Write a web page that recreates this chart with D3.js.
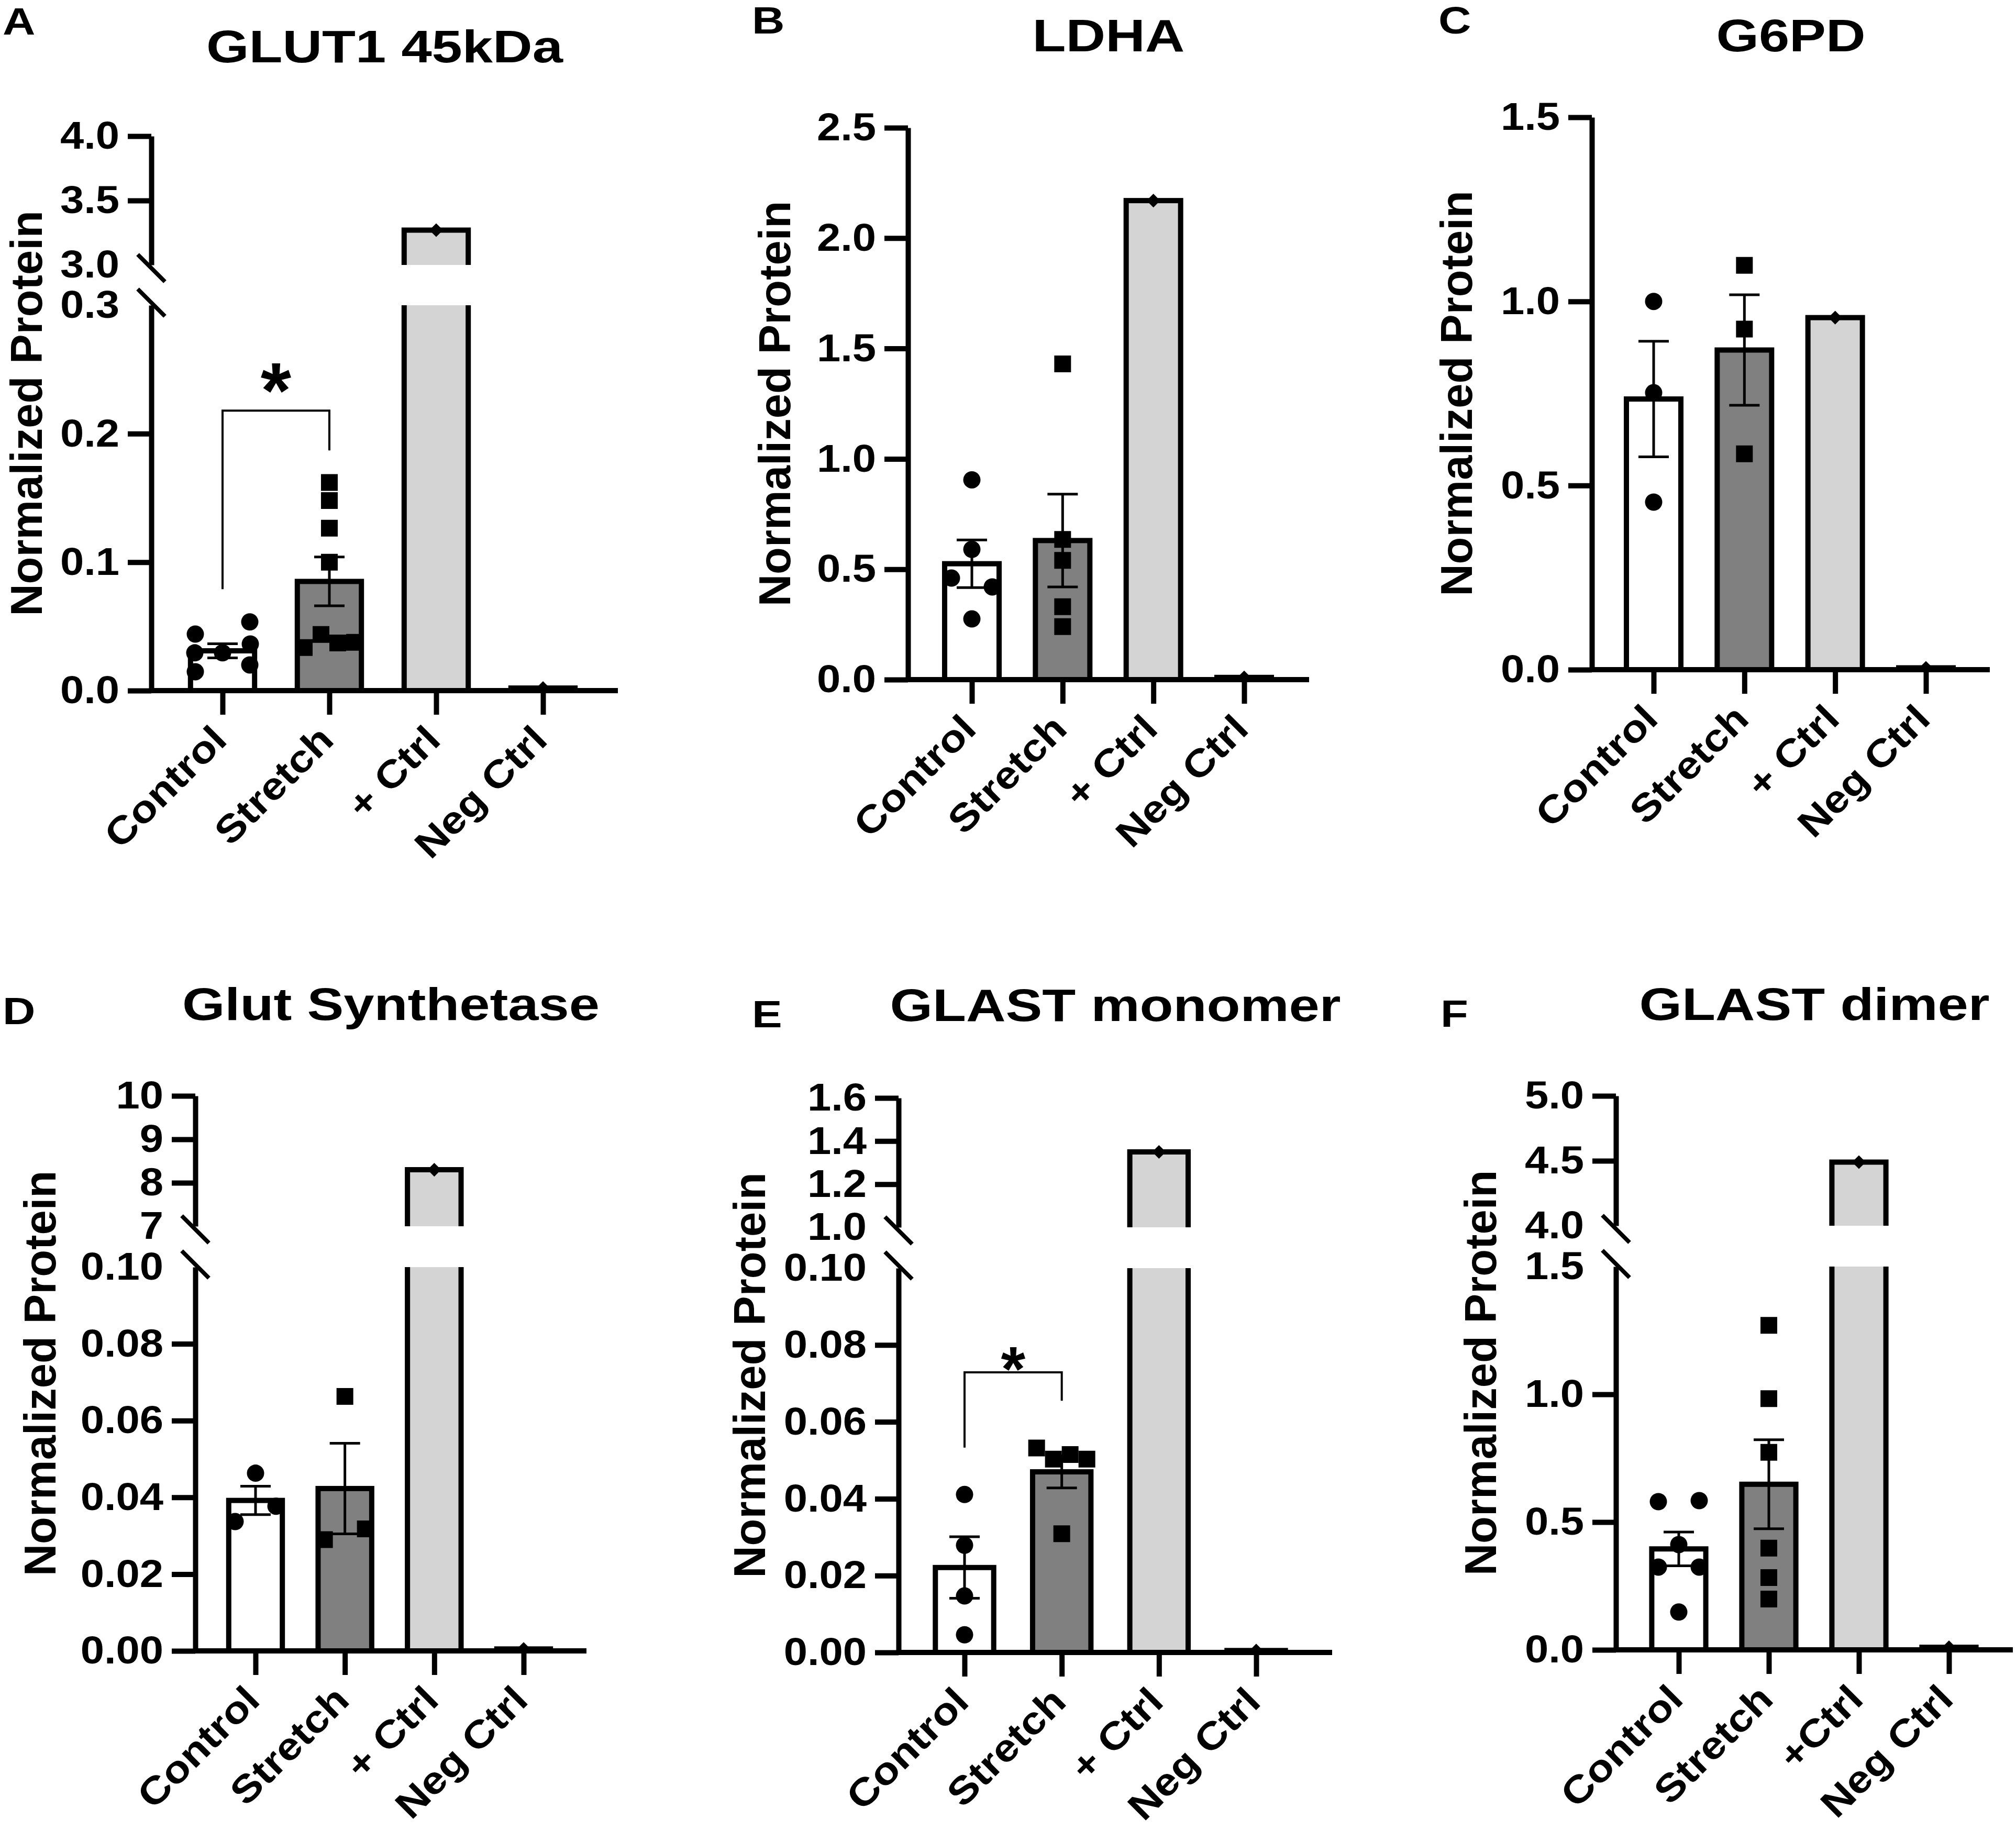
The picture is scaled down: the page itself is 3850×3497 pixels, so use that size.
<!DOCTYPE html>
<html lang="en">
  <head>
    <meta charset="utf-8">
    <title>Normalized protein panels</title>
    <script src="https://d3js.org/d3.v7.min.js"></script>
    <style>
      body { margin: 0; background: #fff; }
      svg { display: block; }
      text { font-family: "Liberation Sans", Arial, Helvetica, sans-serif; font-weight: bold; fill: #000; }
    </style>
  </head>
  <body>
    <svg id="fig" width="3850" height="3497"></svg>
    <script type="text/javascript">
      // categories
      var groups  = ["Control", "Stretch", "+ Ctrl", "Neg Ctrl"];
      var groupsF = ["Control", "Stretch", "+Ctrl", "Neg Ctrl"];

      // A - GLUT1 45kDa
      var glut1Mean    = [0.031, 0.085, 3.27, 0.002];
      var glut1Sem     = [0.0055, 0.019, 0, 0];
      var glut1Control = [0.044, 0.0535, 0.0294, 0.0294, 0.0363, 0.0147, 0.020];
      var glut1Stretch = [0.162, 0.148, 0.1265, 0.100, 0.0335, 0.0437, 0.0371, 0.0376];
      var glut1TicksLow  = [0, 0.1, 0.2, 0.3];
      var glut1TicksHigh = [3.0, 3.5, 4.0];
      var glut1Bracket   = [0.079, 0.218, 0.187];   // left end, top, right end

      // B - LDHA
      var ldhaMean    = [0.525, 0.63, 2.17, 0.01];
      var ldhaSem     = [0.108, 0.21, 0, 0];
      var ldhaControl = [0.905, 0.59, 0.46, 0.42, 0.275];
      var ldhaStretch = [1.43, 0.635, 0.54, 0.33, 0.24];
      var ldhaTicks   = [0, 0.5, 1.0, 1.5, 2.0, 2.5];

      // C - G6PD
      var g6pdMean    = [0.735, 0.868, 0.956, 0.005];
      var g6pdSem     = [0.157, 0.15, 0, 0];
      var g6pdControl = [1.0, 0.752, 0.455];
      var g6pdStretch = [1.098, 0.925, 0.586];
      var g6pdTicks   = [0, 0.5, 1.0, 1.5];

      // D - Glut Synthetase
      var gsMean    = [0.0392, 0.0423, 8.30, 0.0005];
      var gsSem     = [0.0037, 0.0118, 0, 0];
      var gsControl = [0.0463, 0.0337, 0.0377];
      var gsStretch = [0.0663, 0.029, 0.0318];
      var gsTicksLow  = [0, 0.02, 0.04, 0.06, 0.08, 0.10];
      var gsTicksHigh = [7, 8, 9, 10];

      // E - GLAST monomer
      var monoMean    = [0.0221, 0.0470, 1.35, 0.0005];
      var monoSem     = [0.0080, 0.0042, 0, 0];
      var monoControl = [0.0411, 0.0279, 0.0147, 0.0046];
      var monoStretch = [0.0532, 0.0503, 0.0515, 0.0503, 0.0309];
      var monoTicksLow  = [0, 0.02, 0.04, 0.06, 0.08, 0.10];
      var monoTicksHigh = [1.0, 1.2, 1.4, 1.6];
      var monoBracket   = [0.0533, 0.0729, 0.0655];

      // F - GLAST dimer
      var dimerMean    = [0.395, 0.648, 4.49, 0.01];
      var dimerSem     = [0.066, 0.174, 0, 0];
      var dimerControl = [0.58, 0.584, 0.412, 0.324, 0.324, 0.148];
      var dimerStretch = [1.27, 0.983, 0.773, 0.398, 0.283, 0.199];
      var dimerTicksLow  = [0, 0.5, 1.0, 1.5];
      var dimerTicksHigh = [4.0, 4.5, 5.0];

      var fills = ["#ffffff", "#808080", "#d4d4d4", "#ffffff"];

      var panels = [
        { letter: "A", title: "GLUT1 45kDa", groups: groups, mean: glut1Mean, sem: glut1Sem,
          control: glut1Control, stretch: glut1Stretch, ticksLow: glut1TicksLow, ticksHigh: glut1TicksHigh,
          fmtLow: ".1f", fmtHigh: ".1f", bracket: glut1Bracket,
          L: { axisX: 289, xFirst: 425, xLast: 1037, axisEnd: 1180, y0: 1319, yLowTop: 583, yHighBottom: 506, yHighTop: 260,
               titleY: 119, letterX: 5, letterY: 66, ylabX: 80, pairGap: 104,
               starSize: 150, starWeight: "bold", starLift: 70 } },
        { letter: "B", title: "LDHA", groups: groups, mean: ldhaMean, sem: ldhaSem,
          control: ldhaControl, stretch: ldhaStretch, ticksLow: ldhaTicks, fmtLow: ".1f",
          L: { axisX: 1734, xFirst: 1856, xLast: 2376, axisEnd: 2500, y0: 1298, yLowTop: 244,
               titleY: 98, letterX: 1436, letterY: 64, ylabX: 1509 } },
        { letter: "C", title: "G6PD", groups: groups, mean: g6pdMean, sem: g6pdSem,
          control: g6pdControl, stretch: g6pdStretch, ticksLow: g6pdTicks, fmtLow: ".1f",
          L: { axisX: 3040, xFirst: 3158, xLast: 3678, axisEnd: 3800, y0: 1279, yLowTop: 224,
               titleY: 98, letterX: 2747, letterY: 64, ylabX: 2811 } },
        { letter: "D", title: "Glut Synthetase", groups: groups, mean: gsMean, sem: gsSem,
          control: gsControl, stretch: gsStretch, ticksLow: gsTicksLow, ticksHigh: gsTicksHigh,
          fmtLow: ".2f", fmtHigh: "d",
          L: { axisX: 373, xFirst: 488, xLast: 1000, axisEnd: 1120, y0: 3153, yLowTop: 2420, yHighBottom: 2342, yHighTop: 2093,
               titleY: 1948, letterX: 5, letterY: 1956, ylabX: 106 } },
        { letter: "E", title: "GLAST monomer", groups: groups, mean: monoMean, sem: monoSem,
          control: monoControl, stretch: monoStretch, ticksLow: monoTicksLow, ticksHigh: monoTicksHigh,
          fmtLow: ".2f", fmtHigh: ".1f", bracket: monoBracket,
          L: { axisX: 1716, xFirst: 1842, xLast: 2399, axisEnd: 2544, y0: 3156, yLowTop: 2422, yHighBottom: 2344, yHighTop: 2097,
               titleY: 1950, letterX: 1436, letterY: 1962, ylabX: 1461,
               starSize: 120, starWeight: "normal", starLift: 32 } },
        { letter: "F", title: "GLAST dimer", groups: groupsF, mean: dimerMean, sem: dimerSem,
          control: dimerControl, stretch: dimerStretch, ticksLow: dimerTicksLow, ticksHigh: dimerTicksHigh,
          fmtLow: ".1f", fmtHigh: ".1f",
          L: { axisX: 3086, xFirst: 3206, xLast: 3722, axisEnd: 3844, y0: 3151, yLowTop: 2419, yHighBottom: 2341, yHighTop: 2093,
               titleY: 1948, letterX: 2751, letterY: 1961, ylabX: 2857 } }
      ];

      var svg = d3.select("#fig");

      // spread dots of one group into rows, like a scatter-dot column
      function spread(vals, y, pairGap) {
        var order = vals.map(function(v, i) { return i; })
          .sort(function(a, b) { return vals[b] - vals[a]; });
        var rows = [], cur = null;
        order.forEach(function(i) {
          var py = y(vals[i]);
          if (!cur || py - cur.top > 31) { cur = { top: py, items: [] }; rows.push(cur); }
          cur.items.push(i);
        });
        var gap = { 1: 0, 2: pairGap || 78, 3: 53 };
        var off = [];
        rows.forEach(function(r) {
          r.items.sort(d3.ascending);
          var n = r.items.length, sp = gap[n] !== undefined ? gap[n] : 32;
          r.items.forEach(function(i, k) { off[i] = (k - (n - 1) / 2) * sp; });
        });
        return off;
      }

      function drawPanel(p) {
        var L = p.L;
        var g = svg.append("g");
        var x = d3.scalePoint().domain(p.groups).range([L.xFirst, L.xLast]);
        var bw = x.step() * 0.6;
        var lowMax = d3.max(p.ticksLow);
        var yLow = d3.scaleLinear().domain([0, lowMax]).range([L.y0, L.yLowTop]);
        var yHigh = p.ticksHigh ?
          d3.scaleLinear().domain(d3.extent(p.ticksHigh)).range([L.yHighBottom, L.yHighTop]) : null;

        // bars
        p.groups.forEach(function(name, i) {
          var m = p.mean[i], x0 = x(name) - bw / 2;
          if (m <= lowMax) {
            g.append("rect")
              .attr("x", x0).attr("y", yLow(m))
              .attr("width", bw).attr("height", L.y0 - yLow(m))
              .attr("fill", fills[i]).attr("stroke", "#000").attr("stroke-width", 10);
          } else {
            // broken bar: lower piece, then upper piece
            g.append("rect").attr("x", x0).attr("y", L.yLowTop)
              .attr("width", bw).attr("height", L.y0 - L.yLowTop).attr("fill", fills[i]);
            g.append("path")
              .attr("d", "M" + x0 + "," + L.yLowTop + "V" + L.y0 + "M" + (x0 + bw) + "," + L.yLowTop + "V" + L.y0)
              .attr("stroke", "#000").attr("stroke-width", 10);
            var top = yHigh(m);
            g.append("rect").attr("x", x0).attr("y", top)
              .attr("width", bw).attr("height", L.yHighBottom - top).attr("fill", fills[i]);
            g.append("path")
              .attr("d", "M" + x0 + "," + L.yHighBottom + "V" + top + "H" + (x0 + bw) + "V" + L.yHighBottom)
              .attr("fill", "none").attr("stroke", "#000").attr("stroke-width", 10);
          }
        });

        // SEM error bars
        p.groups.forEach(function(name, i) {
          if (!p.sem[i]) return;
          var cx = x(name);
          var lo = yLow(p.mean[i] - p.sem[i]), hi = yLow(p.mean[i] + p.sem[i]);
          g.append("path")
            .attr("d", "M" + cx + "," + lo + "V" + hi +
                       "M" + (cx - 29) + "," + hi + "H" + (cx + 29) +
                       "M" + (cx - 29) + "," + lo + "H" + (cx + 29))
            .attr("fill", "none").attr("stroke", "#000").attr("stroke-width", 5);
        });

        // individual samples
        [p.control, p.stretch].forEach(function(vals, gi) {
          var off = spread(vals, yLow, L.pairGap);
          var sym = d3.symbol().type(gi ? d3.symbolSquare : d3.symbolCircle).size(gi ? 1024 : 855);
          g.selectAll(null).data(vals).enter().append("path")
            .attr("d", sym)
            .attr("transform", function(d, k) {
              return "translate(" + (x(p.groups[gi]) + off[k]) + "," + yLow(d) + ")";
            })
            .attr("fill", "#000");
        });

        // single samples (+Ctrl / Neg Ctrl) as small diamonds
        [2, 3].forEach(function(i) {
          var m = p.mean[i];
          var yy = m <= lowMax ? yLow(m) : yHigh(m);
          g.append("path")
            .attr("d", d3.symbol().type(d3.symbolSquare).size(340)())
            .attr("transform", "translate(" + x(p.groups[i]) + "," + yy + ") rotate(45)")
            .attr("fill", "#000");
        });

        // y axis (one or two segments)
        function yAxis(scale, ticks, fmt, noTick) {
          var ax = g.append("g")
            .attr("transform", "translate(" + L.axisX + ",0)")
            .call(d3.axisLeft(scale).tickValues(ticks).tickSize(45).tickSizeOuter(0)
              .tickPadding(16).tickFormat(d3.format(fmt)));
          ax.attr("font-size", 74).attr("font-family", null);
          ax.select(".domain").attr("stroke-width", 10);
          ax.selectAll(".tick line").attr("stroke-width", 10);
          ax.selectAll(".tick").filter(function(d) { return d === noTick; }).select("line").remove();
          ax.selectAll(".tick text")
            .attr("transform", "translate(-61,0) scale(1.1,1) translate(61,0)");
        }
        yAxis(yLow, p.ticksLow, p.fmtLow, yHigh ? lowMax : null);
        if (yHigh) {
          yAxis(yHigh, p.ticksHigh, p.fmtHigh, d3.min(p.ticksHigh));
          [L.yHighBottom + 6, L.yLowTop - 5].forEach(function(cy) {
            g.append("line")
              .attr("x1", L.axisX - 26).attr("y1", cy - 26)
              .attr("x2", L.axisX + 26).attr("y2", cy + 26)
              .attr("stroke", "#000").attr("stroke-width", 8);
          });
        }

        // x axis
        g.append("line")
          .attr("x1", L.axisX).attr("x2", L.axisEnd).attr("y1", L.y0).attr("y2", L.y0)
          .attr("stroke", "#000").attr("stroke-width", 10);
        var xa = g.append("g").attr("transform", "translate(0," + L.y0 + ")")
          .call(d3.axisBottom(x).tickSize(46).tickFormat(""));
        xa.select(".domain").remove();
        xa.selectAll(".tick line").attr("stroke-width", 10);

        p.groups.forEach(function(name) {
          g.append("text")
            .attr("transform", "translate(" + (x(name) + 12) + "," + (L.y0 + 98) + ") rotate(-45) scale(1.13,1)")
            .attr("text-anchor", "end").attr("font-size", 73)
            .text(name);
        });

        // axis title, panel title, panel letter
        var yTop = yHigh ? L.yHighTop : L.yLowTop;
        g.append("text")
          .attr("transform", "translate(" + L.ylabX + "," + ((yTop + L.y0) / 2) + ") rotate(-90)")
          .attr("text-anchor", "middle").attr("font-size", 85)
          .text("Normalized Protein");

        g.append("text")
          .attr("transform", "translate(" + ((L.axisX + L.axisEnd) / 2) + "," + L.titleY + ") scale(1.19,1)")
          .attr("text-anchor", "middle").attr("font-size", 88)
          .text(p.title);

        g.append("text")
          .attr("transform", "translate(" + L.letterX + "," + L.letterY + ") scale(1.2,1)")
          .attr("font-size", 72)
          .text(p.letter);

        // significance bracket
        if (p.bracket) {
          var x1 = x(p.groups[0]), x2 = x(p.groups[1]);
          var bt = yLow(p.bracket[1]);
          g.append("path")
            .attr("d", "M" + x1 + "," + yLow(p.bracket[0]) + "V" + bt + "H" + x2 + "V" + yLow(p.bracket[2]))
            .attr("fill", "none").attr("stroke", "#000").attr("stroke-width", 4);
          var cy = bt - L.starLift;
          g.append("text")
            .attr("x", (x1 + x2) / 2).attr("y", cy + 0.56 * L.starSize)
            .attr("text-anchor", "middle")
            .attr("font-size", L.starSize).attr("font-weight", L.starWeight)
            .text("*");
        }
      }

      panels.forEach(drawPanel);
    </script>
  </body>
</html>
